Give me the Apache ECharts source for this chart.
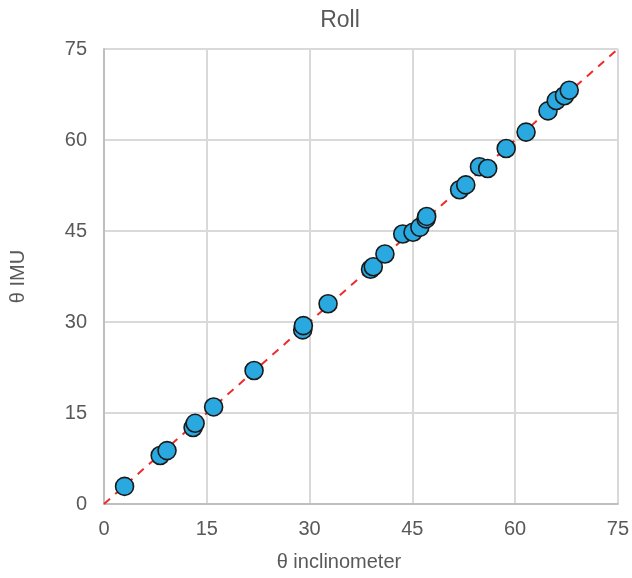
<!DOCTYPE html>
<html>
<head>
<meta charset="utf-8">
<script src="https://cdn.jsdelivr.net/npm/echarts@6/dist/echarts.min.js"></script>
<style>
  html, body { margin: 0; padding: 0; background: #fff; }
  #chart { width: 632px; height: 578px; }
</style>
</head>
<body>
<div id="chart"></div>
<script>
// inclinometer angle vs IMU angle (degrees)
const inclinometer = [3.0, 8.2, 9.2, 13.0, 13.3, 16.0, 21.9, 29.0, 29.1, 32.7, 38.9, 39.3, 41.0,
  43.6, 45.1, 46.1, 47.0, 47.1, 51.9, 52.8, 54.8, 56.0, 58.7, 61.6, 64.8, 66.0, 67.2, 67.9];
const imu = [2.9, 8.0, 8.8, 12.6, 13.3, 16.0, 22.0, 28.7, 29.4, 33.0, 38.7, 39.1, 41.2,
  44.5, 44.8, 45.6, 47.0, 47.4, 51.8, 52.6, 55.6, 55.3, 58.6, 61.3, 64.8, 66.5, 67.3, 68.2];
const identityLine = [[0, 0], [75, 75]];
const axisTicks = [0, 15, 30, 45, 60, 75];

const points = inclinometer.map((x, i) => [x, imu[i]]);
const labelColor = '#595959';
const font = 'Liberation Sans, Arial, sans-serif';

const chart = echarts.init(document.getElementById('chart'));
chart.setOption({
  animation: false,
  title: {
    text: 'Roll',
    left: 335,
    top: 4,
    textAlign: 'center',
    textStyle: { color: labelColor, fontSize: 23, fontWeight: 'normal', fontFamily: font }
  },
  grid: { left: 102, right: 13, top: 49, bottom: 74 },
  xAxis: {
    type: 'value',
    min: axisTicks[0],
    max: axisTicks[axisTicks.length - 1],
    interval: 15,
    name: 'θ inclinometer',
    nameLocation: 'middle',
    nameGap: 48,
    nameTextStyle: { color: labelColor, fontSize: 20, fontFamily: font, padding: [0, 44, 0, 0] },
    axisLine: { show: true, lineStyle: { color: '#bfbfbf', width: 2 } },
    axisTick: { show: false },
    axisLabel: { color: labelColor, fontSize: 20, margin: 15, fontFamily: font },
    splitLine: { show: true, lineStyle: { color: '#d9d9d9', width: 2 } }
  },
  yAxis: {
    type: 'value',
    min: axisTicks[0],
    max: axisTicks[axisTicks.length - 1],
    interval: 15,
    name: 'θ IMU',
    nameLocation: 'middle',
    nameGap: 76,
    nameTextStyle: { color: labelColor, fontSize: 20, fontFamily: font },
    axisLine: { show: true, lineStyle: { color: '#bfbfbf', width: 2 } },
    axisTick: { show: false },
    axisLabel: { color: labelColor, fontSize: 20, margin: 17, fontFamily: font },
    splitLine: { show: true, lineStyle: { color: '#d9d9d9', width: 2 } }
  },
  series: [
    {
      type: 'line',
      data: identityLine,
      showSymbol: false,
      lineStyle: { color: '#ee2b2b', width: 2, type: [8, 7] },
      z: 1
    },
    {
      type: 'scatter',
      data: points,
      symbolSize: 18,
      itemStyle: { color: '#2aa8e0', borderColor: '#1a1a1a', borderWidth: 1.6, opacity: 1 },
      z: 2
    }
  ]
});
</script>
</body>
</html>
